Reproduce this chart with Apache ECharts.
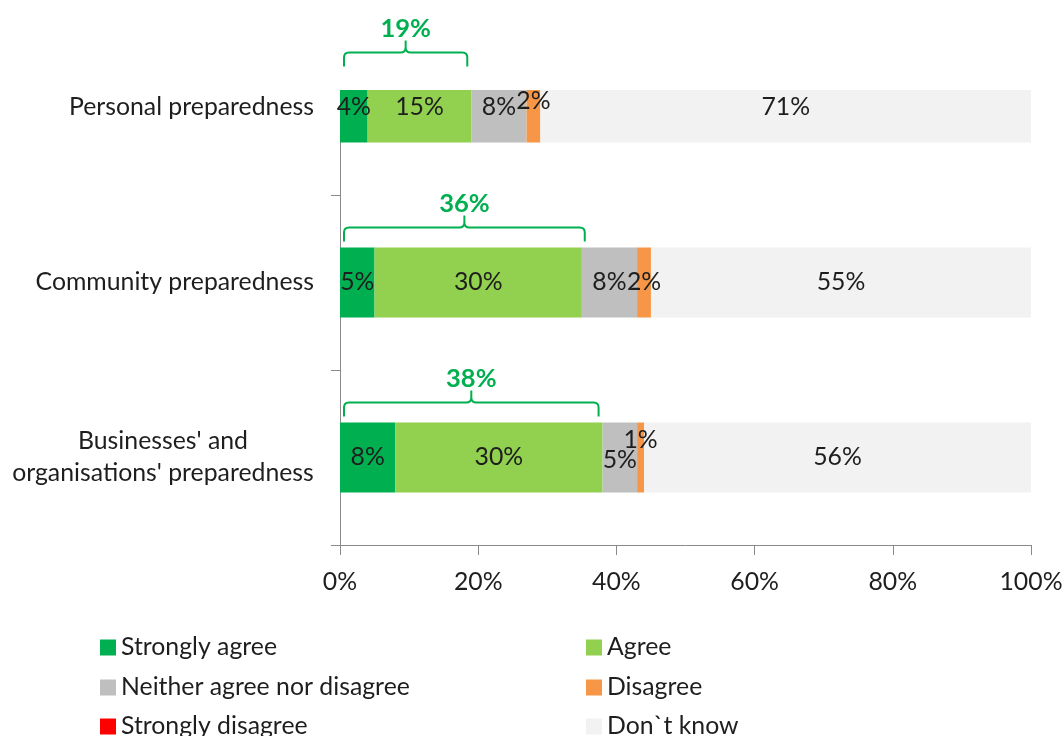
<!DOCTYPE html>
<html>
<head>
<meta charset="utf-8">
<script src="https://cdn.jsdelivr.net/npm/echarts@6/dist/echarts.min.js"></script>
<style>
  html, body { margin: 0; padding: 0; background: #ffffff; }
  #chart { width: 1063px; height: 736px; }
</style>
</head>
<body>
<div id="chart"></div>
<script>
// Survey results: agreement with preparedness statements (percent of respondents)
const categories = [
  'Personal preparedness',
  'Community preparedness',
  "Businesses' and\norganisations' preparedness"
];
const seriesNames = [
  'Strongly agree', 'Agree', 'Neither agree nor disagree',
  'Disagree', 'Strongly disagree', 'Don`t know'
];
const stronglyAgree    = [4, 5, 8];
const agree            = [15, 30, 30];
const neither          = [8, 8, 5];
const disagree         = [2, 2, 1];
const stronglyDisagree = [0, 0, 0];
const dontKnow         = [71, 55, 56];
// combined "agree" share shown above each bar
const agreeTotals      = [19, 36, 38];
const xTickLabels      = [0, 20, 40, 60, 80, 100];

const FONT = 'Lato';
const FONT_SIZE = 24.8;
const TEXT_COLOR = '#1e1e1e';
const AXIS_COLOR = '#8a8a8a';
const GREEN = '#00B050';
const colors = ['#00B050', '#92D050', '#BFBFBF', '#F79646', '#FF0000', '#F2F2F2'];
const seriesValues = [stronglyAgree, agree, neither, disagree, stronglyDisagree, dontKnow];

// small manual nudges for labels on narrow segments: [seriesIndex][categoryIndex] -> [dx, dy]
const labelNudges = { '3-0': [0, -6], '3-2': [0, -17], '2-2': [0, 3] };

const measureCtx = document.createElement('canvas').getContext('2d');
measureCtx.font = FONT_SIZE + 'px ' + FONT;
function textWidth(s) { return measureCtx.measureText(s).width; }

const chart = echarts.init(document.getElementById('chart'), null, { renderer: 'canvas' });

const barSeries = seriesValues.map((vals, si) => ({
  name: seriesNames[si],
  type: 'bar',
  stack: 'total',
  barWidth: 70,
  itemStyle: { color: colors[si] },
  label: {
    show: true,
    position: 'inside',
    color: TEXT_COLOR,
    fontFamily: FONT,
    fontSize: FONT_SIZE,
    formatter: p => (p.value > 0 ? p.value + '%' : '')
  },
  data: vals.map((v, ci) => {
    const nudge = labelNudges[si + '-' + ci];
    return nudge ? { value: v, label: { offset: nudge } } : v;
  })
}));

// curly bracket + total above the agree segments
const bracketSeries = {
  type: 'custom',
  z: 5,
  silent: true,
  encode: { x: 0, y: 1 },
  data: agreeTotals.map((t, i) => [t, i]),
  renderItem(params, api) {
    const total = api.value(0);
    const cat = api.value(1);
    const p0 = api.coord([0, cat]);
    const p1 = api.coord([total, cat]);
    const pEnd = api.coord([100, cat]);
    const cy = p0[1];
    const x0 = p0[0] + 4, x1 = p1[0] - 4, xm = (x0 + x1) / 2;
    const yl = cy - 55, yd = cy - 41, yn = cy - 67, r = 5;
    const d =
      'M' + x0 + ' ' + yd + ' L' + x0 + ' ' + (yl + r) +
      ' Q' + x0 + ' ' + yl + ' ' + (x0 + r) + ' ' + yl +
      ' L' + (xm - r) + ' ' + yl +
      ' Q' + xm + ' ' + yl + ' ' + xm + ' ' + (yl - r) +
      ' L' + xm + ' ' + yn +
      ' M' + xm + ' ' + (yl - r) +
      ' Q' + xm + ' ' + yl + ' ' + (xm + r) + ' ' + yl +
      ' L' + (x1 - r) + ' ' + yl +
      ' Q' + x1 + ' ' + yl + ' ' + x1 + ' ' + (yl + r) +
      ' L' + x1 + ' ' + yd;
    const children = [];
    if (params.dataIndex === 0) {
      // white backing box of the first annotation overlaps the top of the first bar
      children.push({
        type: 'rect',
        shape: { x: p0[0] - 20, y: 0, width: pEnd[0] - p0[0] + 25, height: cy - 17.5 },
        style: { fill: '#ffffff' }
      });
    }
    children.push({
      type: 'path',
      shape: { pathData: d },
      style: { stroke: GREEN, fill: 'none', lineWidth: 2 }
    });
    children.push({
      type: 'text',
      style: {
        text: total + '%',
        x: xm, y: cy - 79,
        align: 'center', verticalAlign: 'middle',
        fontFamily: FONT, fontSize: 25.5, fontWeight: 'bold',
        fill: GREEN
      }
    });
    return { type: 'group', children };
  }
};

// legend: two columns, three rows; one legend box per entry
const legendColumns = [95, 581];
const legendRows = [630, 670, 709];
const legends = seriesNames.map((name, i) => ({
  left: legendColumns[i % 2],
  top: legendRows[Math.floor(i / 2)],
  orient: 'horizontal',
  icon: 'rect',
  itemWidth: 16,
  itemHeight: 16,
  selectedMode: false,
  data: [name],
  textStyle: { fontFamily: FONT, fontSize: FONT_SIZE, color: TEXT_COLOR, lineHeight: 24 }
}));

chart.setOption({
  animation: false,
  backgroundColor: '#ffffff',
  grid: { left: 340, right: 32, top: 20, bottom: 191, outerBoundsMode: 'none' },
  legend: legends,
  xAxis: {
    type: 'value',
    min: xTickLabels[0],
    max: xTickLabels[xTickLabels.length - 1],
    interval: xTickLabels[1] - xTickLabels[0],
    axisLine: { show: true, lineStyle: { color: AXIS_COLOR, width: 1 } },
    axisTick: { show: true, length: 10, lineStyle: { color: AXIS_COLOR } },
    splitLine: { show: false },
    axisLabel: {
      formatter: '{value}%',
      color: TEXT_COLOR,
      fontFamily: FONT,
      fontSize: FONT_SIZE,
      margin: 25
    }
  },
  yAxis: {
    type: 'category',
    inverse: true,
    data: categories,
    axisLine: { show: true, lineStyle: { color: AXIS_COLOR, width: 1 } },
    axisTick: { show: true, length: 9, lineStyle: { color: AXIS_COLOR } },
    axisLabel: {
      color: TEXT_COLOR,
      fontFamily: FONT,
      fontSize: FONT_SIZE,
      margin: 26,
      lineHeight: 32,
      formatter: v => {
        if (v.indexOf('\n') < 0) return v;
        const lines = v.split('\n');
        return lines.map(l => '{c|' + l + '}').join('\n');
      },
      rich: {
        c: {
          width: Math.ceil(Math.max(...categories[2].split('\n').map(textWidth))),
          align: 'center',
          fontFamily: FONT,
          fontSize: FONT_SIZE,
          color: TEXT_COLOR,
          lineHeight: 32
        }
      }
    }
  },
  series: barSeries.concat([bracketSeries])
});
</script>
</body>
</html>
